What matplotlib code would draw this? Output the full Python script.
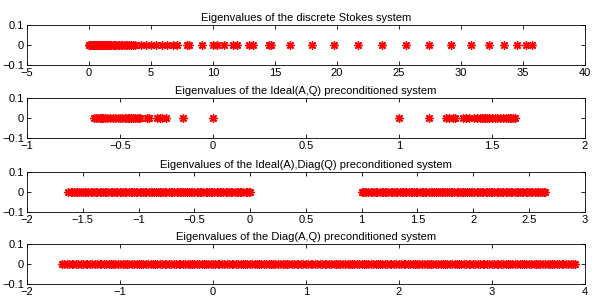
import matplotlib
matplotlib.use('Agg')
import matplotlib.pyplot as plt
import numpy as np

plt.rcParams['font.family'] = ['Liberation Sans', 'DejaVu Sans']
plt.rcParams['font.size'] = 8

stokes_eigs = [0.0, 0.03, 0.06, 0.1, 0.14, 0.18, 0.22, 0.27, 0.31, 0.36, 0.4, 0.45,
               0.5, 0.55, 0.6, 0.65, 0.7, 0.76, 0.82, 0.88, 0.94, 1.0, 1.06, 1.12,
               1.19, 1.26, 1.33, 1.4, 1.47, 1.55, 1.62, 1.7, 1.8, 1.9, 2.0, 2.1,
               2.2, 2.32, 2.44, 2.56, 2.68, 2.8, 2.95, 3.1, 3.25, 3.4, 3.55, 3.7,
               4.2, 4.6, 5.0, 5.4, 5.9, 6.3, 6.8, 7.1, 7.9, 8.1, 9.1, 10.0, 10.3,
               10.9, 11.6, 11.9, 12.9, 13.2, 14.5, 14.7, 16.2, 17.95, 19.8, 21.7,
               23.65, 25.6, 27.45, 29.2, 30.85, 32.3, 33.5, 34.5, 35.25, 35.7]

ideal_eigs = [-0.64, -0.63, -0.62, -0.61, -0.6, -0.595, -0.59, -0.58, -0.57, -0.555,
              -0.54, -0.525, -0.51, -0.5, -0.49, -0.475, -0.465, -0.455, -0.45, -0.44,
              -0.43, -0.42, -0.41, -0.4, -0.39, -0.355, -0.345, -0.3, -0.285, -0.275,
              -0.255, -0.16, 0.0,
              1.0, 1.16, 1.255, 1.27, 1.29, 1.3, 1.345, 1.36, 1.375, 1.405, 1.42,
              1.435, 1.445, 1.455, 1.465, 1.475, 1.485, 1.5, 1.515, 1.53, 1.545,
              1.56, 1.575, 1.585, 1.595, 1.605, 1.615, 1.625]

ideal_diag_eigs = [-1.63, -1.61, -1.60, -1.58, -1.56, -1.55, -1.53, -1.52, -1.50, -1.48,
                   -1.47, -1.45, -1.43, -1.42, -1.40, -1.38, -1.37, -1.35, -1.34, -1.32,
                   -1.30, -1.29, -1.27, -1.25, -1.24, -1.22, -1.20, -1.19, -1.17, -1.16,
                   -1.14, -1.12, -1.11, -1.09, -1.07, -1.06, -1.04, -1.02, -1.01, -0.99,
                   -0.98, -0.96, -0.94, -0.93, -0.91, -0.89, -0.88, -0.86, -0.84, -0.83,
                   -0.81, -0.80, -0.78, -0.76, -0.75, -0.73, -0.71, -0.70, -0.68, -0.66,
                   -0.65, -0.63, -0.62, -0.60, -0.58, -0.57, -0.55, -0.53, -0.52, -0.50,
                   -0.48, -0.47, -0.45, -0.44, -0.42, -0.40, -0.39, -0.37, -0.35, -0.34,
                   -0.32, -0.30, -0.29, -0.27, -0.26, -0.24, -0.22, -0.21, -0.19, -0.17,
                   -0.16, -0.14, -0.12, -0.11, -0.09, -0.08, -0.06, -0.04, -0.03, -0.01,
                   0.0,
                   1.00, 1.01, 1.03, 1.04, 1.06, 1.08, 1.09, 1.11, 1.13, 1.14, 1.16,
                   1.18, 1.19, 1.21, 1.22, 1.24, 1.26, 1.27, 1.29, 1.31, 1.32, 1.34,
                   1.36, 1.37, 1.39, 1.40, 1.42, 1.44, 1.45, 1.47, 1.49, 1.50, 1.52,
                   1.54, 1.55, 1.57, 1.58, 1.60, 1.62, 1.63, 1.65, 1.67, 1.68, 1.70,
                   1.72, 1.73, 1.75, 1.76, 1.78, 1.80, 1.81, 1.83, 1.85, 1.86, 1.88,
                   1.90, 1.91, 1.93, 1.94, 1.96, 1.98, 1.99, 2.01, 2.03, 2.04, 2.06,
                   2.08, 2.09, 2.11, 2.12, 2.14, 2.16, 2.17, 2.19, 2.21, 2.22, 2.24,
                   2.26, 2.27, 2.29, 2.30, 2.32, 2.34, 2.35, 2.37, 2.39, 2.40, 2.42,
                   2.44, 2.45, 2.47, 2.48, 2.50, 2.52, 2.53, 2.55, 2.57, 2.58, 2.60,
                   2.62, 2.63, 2.64]

diag_eigs = [-1.62, -1.60, -1.57, -1.55, -1.52, -1.50, -1.47, -1.45, -1.42, -1.40,
             -1.37, -1.35, -1.32, -1.30, -1.27, -1.25, -1.22, -1.20, -1.17, -1.15,
             -1.12, -1.10, -1.07, -1.05, -1.02, -1.00,
             -0.97, -0.95, -0.92, -0.90, -0.87, -0.85, -0.82, -0.80, -0.77, -0.75,
             -0.72, -0.70, -0.67, -0.65, -0.62, -0.60, -0.57, -0.55, -0.52, -0.50,
             -0.47, -0.45, -0.42, -0.40, -0.37, -0.35, -0.32, -0.30, -0.27, -0.25,
             -0.22, -0.20, -0.17, -0.15, -0.12, -0.10, -0.07, -0.05, -0.02, 0.00,
             0.02, 0.05, 0.07, 0.10, 0.12, 0.15, 0.17, 0.20, 0.22, 0.25, 0.27, 0.30,
             0.32, 0.35, 0.37, 0.40, 0.42, 0.45, 0.47, 0.50, 0.52, 0.55, 0.57, 0.60,
             0.62, 0.65, 0.67, 0.70, 0.72, 0.75, 0.77, 0.80, 0.82, 0.85, 0.87, 0.90,
             0.92, 0.95, 0.97, 1.00,
             1.02, 1.05, 1.07, 1.10, 1.12, 1.15, 1.17, 1.20, 1.22, 1.25, 1.27, 1.30,
             1.32, 1.35, 1.37, 1.40, 1.42, 1.45, 1.47, 1.50, 1.52, 1.55, 1.57, 1.60,
             1.62, 1.65, 1.67, 1.70, 1.72, 1.75, 1.77, 1.80, 1.82, 1.85, 1.87, 1.90,
             1.92, 1.95, 1.97, 2.00,
             2.02, 2.05, 2.07, 2.10, 2.12, 2.15, 2.17, 2.20, 2.22, 2.25, 2.27, 2.30,
             2.32, 2.35, 2.37, 2.40, 2.42, 2.45, 2.47, 2.50, 2.52, 2.55, 2.57, 2.60,
             2.62, 2.65, 2.67, 2.70, 2.72, 2.75, 2.77, 2.80, 2.82, 2.85, 2.87, 2.90,
             2.92, 2.95, 2.97, 3.00,
             3.02, 3.05, 3.07, 3.10, 3.12, 3.15, 3.17, 3.20, 3.22, 3.25, 3.27, 3.30,
             3.32, 3.35, 3.37, 3.40, 3.42, 3.45, 3.47, 3.50, 3.52, 3.55, 3.57, 3.60,
             3.62, 3.65, 3.67, 3.70, 3.72, 3.75, 3.77, 3.80, 3.82, 3.85, 3.87, 3.89]

titles = ['Eigenvalues of the discrete Stokes system',
          'Eigenvalues of the Ideal(A,Q) preconditioned system',
          'Eigenvalues of the Ideal(A),Diag(Q) preconditioned system',
          'Eigenvalues of the Diag(A,Q) preconditioned system']
xlims = [(-5, 40), (-1, 2), (-2, 3), (-2, 4)]
xticks = [np.arange(-5, 41, 5), [-1, -0.5, 0, 0.5, 1, 1.5, 2],
          [-2, -1.5, -1, -0.5, 0, 0.5, 1, 1.5, 2, 2.5, 3], [-2, -1, 0, 1, 2, 3, 4]]
xticklabels = [None, ['−1', '−0.5', '0', '0.5', '1', '1.5', '2'],
               ['−2', '−1.5', '−1', '−0.5', '0', '0.5', '1', '1.5', '2', '2.5', '3'], None]
all_eigs = [stokes_eigs, ideal_eigs, ideal_diag_eigs, diag_eigs]

fig = plt.figure(figsize=(5.96, 2.99), dpi=100)
bottoms = [0.7826, 0.5385, 0.291, 0.050]
for i in range(4):
    ax = fig.add_axes([0.0453, bottoms[i], 0.936, 0.1338])
    ev = np.array(all_eigs[i])
    ax.plot(ev, np.zeros_like(ev), linestyle='none', marker=(8, 2, 0),
            color='red', markersize=6, markeredgewidth=1.0)
    ax.set_xlim(xlims[i])
    ax.set_ylim(-0.1, 0.1)
    ax.set_yticks([-0.1, 0, 0.1])
    ax.set_yticklabels(['−0.1', '0', '0.1'])
    ax.set_xticks(xticks[i])
    if xticklabels[i] is not None:
        ax.set_xticklabels(xticklabels[i])
    ax.tick_params(direction='in', top=True, right=True, length=3, width=0.6, pad=2)
    for s in ax.spines.values():
        s.set_linewidth(0.6)
    ax.set_title(titles[i], fontsize=8, pad=3)

fig.savefig('out.png', dpi=100)
